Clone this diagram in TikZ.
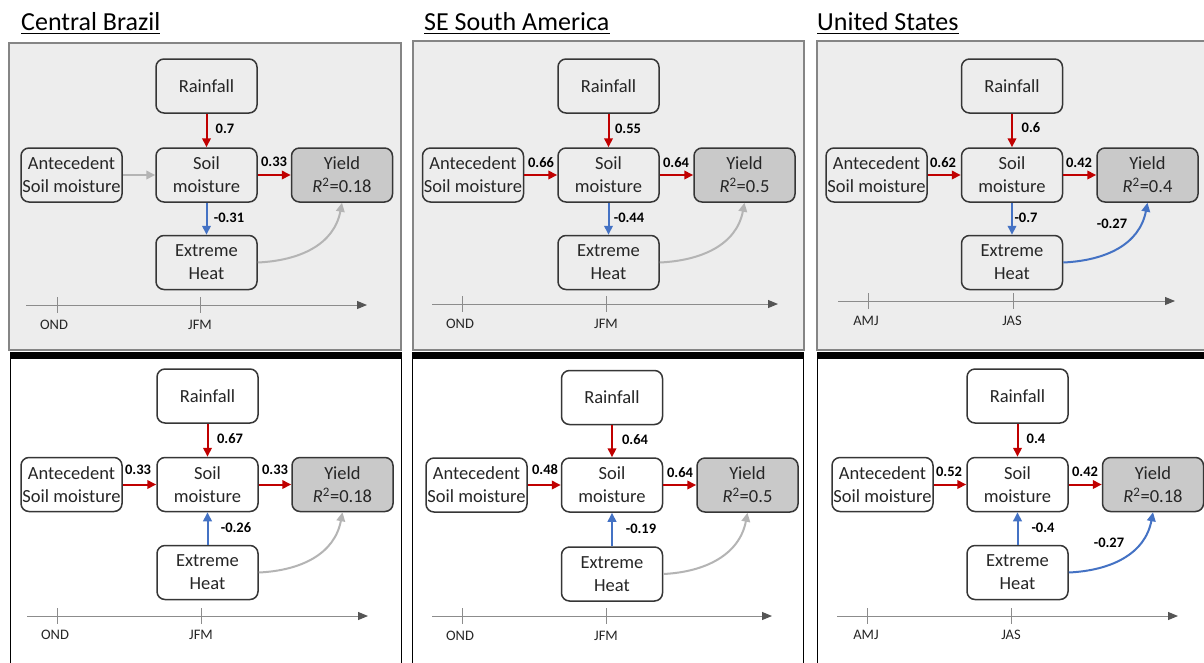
\documentclass[tikz,border=0pt]{standalone}
\usepackage{fontspec}
\setmainfont{Carlito}
\usetikzlibrary{arrows.meta}
\definecolor{cred}{HTML}{C00000}
\definecolor{cblue}{HTML}{4472C4}
\definecolor{cgray}{HTML}{B4B4B4}
\definecolor{panelbg}{HTML}{EDEDED}
\definecolor{panelline}{HTML}{858585}
\definecolor{nodeline}{HTML}{363636}
\definecolor{yieldfill}{HTML}{C9C9C9}
\definecolor{txt}{HTML}{262626}
\definecolor{axline}{HTML}{8C8C8C}
\definecolor{axtip}{HTML}{555555}
\begin{document}
\begin{tikzpicture}[x=1pt,y=-1pt,
  box/.style={draw=nodeline, line width=1.5pt, rounded corners=8pt,
    minimum width=101pt, minimum height=54pt, inner sep=0pt, align=center,
    font=\fontsize{18.5}{23}\selectfont, text=txt},
  topbox/.style={box, fill=panelbg},
  botbox/.style={box, fill=white},
  yieldbox/.style={box, fill=yieldfill},
  lab/.style={font=\fontsize{14.5}{16}\selectfont\bfseries, text=black, inner sep=0pt},
  axlab/.style={font=\fontsize{14.5}{16}\selectfont, text=txt, inner sep=0pt},
  titlelab/.style={font=\fontsize{26}{28}\selectfont, text=black, inner sep=0pt, anchor=base west},
  arr/.style={line width=2pt, -{Triangle[length=9pt,width=8.5pt]}},
  redarr/.style={arr, draw=cred},
  bluearr/.style={arr, draw=cblue},
  grayarr/.style={arr, draw=cgray},
  axis/.style={draw=axline, line width=1pt, -{Triangle[length=10pt,width=8pt,color=axtip]}},
  tick/.style={draw=axline, line width=1pt},
  toppanel/.style={fill=panelbg, draw=panelline, line width=2pt},
  botpanel/.style={fill=white, draw=black, line width=1pt},
  bar/.style={fill=black, draw=none},
  uline/.style={draw=black, line width=1.3pt}
]
\useasboundingbox (0,0) rectangle (1204,662);
\clip (0,0) rectangle (1204,662);
\fill[white] (0,0) rectangle (1204,662);

% ---------- titles ----------
\node[titlelab] (t1) at (21,30) {Central Brazil};
\draw[uline] ([yshift=-3.5pt]t1.base west) -- ([yshift=-3.5pt]t1.base east);
\node[titlelab] (t2) at (424,30) {SE South America};
\draw[uline] ([yshift=-3.5pt]t2.base west) -- ([yshift=-3.5pt]t2.base east);
\node[titlelab] (t3) at (817,30) {United States};
\draw[uline] ([yshift=-3.5pt]t3.base west) -- ([yshift=-3.5pt]t3.base east);

% ---------- panels ----------
\draw[toppanel] (9,43) rectangle (401,350);
\draw[toppanel] (413,41) rectangle (804,350);
\draw[toppanel] (817,41) rectangle (1220,350);
\draw[botpanel] (10,355) rectangle (401,680);
\draw[botpanel] (412,355) rectangle (803,680);
\draw[botpanel] (817,355) rectangle (1220,680);
\fill[bar] (9.5,351.5) rectangle (401.5,359);
\fill[bar] (411.5,351.5) rectangle (803.5,359);
\fill[bar] (816.5,351.5) rectangle (1220,359);

% ================= Top left: Central Brazil =================
\node[topbox] (aR) at (206.5,86) {Rainfall};
\node[topbox] (aA) at (71.5,175) {Antecedent\\Soil moisture};
\node[topbox] (aS) at (206.5,175) {Soil\\moisture};
\node[yieldbox] (aY) at (342,175) {Yield\\{\itshape R}\textsuperscript{2}=0.18};
\node[topbox] (aH) at (206.5,262.5) {Extreme\\Heat};
\draw[redarr] (aR) -- (aS);
\draw[grayarr] (aA) -- (aS);
\draw[redarr] (aS) -- (aY);
\draw[bluearr] (aS) -- (aH);
\draw[grayarr] (aH.east) .. controls +(42,-2) and +(-8,42) .. (aY.south);
\node[lab] (aL1) at (225,129) {0.7};
\node[lab] (aL2) at (274,162) {0.33};
\node[lab] (aL3) at (229,218) {-0.31};
\coordinate (aX0) at (26,305); \coordinate (aX1) at (367,305);
\draw[axis] (aX0) -- (aX1);
\draw[tick] (57,297) -- (57,313);
\draw[tick] (200,297) -- (200,313);
\node[axlab] (aM1) at (54,325) {OND};
\node[axlab] (aM2) at (200,325) {JFM};

% ================= Top middle: SE South America =================
\node[topbox] (bR) at (608.5,86) {Rainfall};
\node[topbox] (bA) at (473,175) {Antecedent\\Soil moisture};
\node[topbox] (bS) at (608.5,175) {Soil\\moisture};
\node[yieldbox] (bY) at (744.5,175) {Yield\\{\itshape R}\textsuperscript{2}=0.5};
\node[topbox] (bH) at (608.5,262.5) {Extreme\\Heat};
\draw[redarr] (bR) -- (bS);
\draw[redarr] (bA) -- (bS);
\draw[redarr] (bS) -- (bY);
\draw[bluearr] (bS) -- (bH);
\draw[grayarr] (bH.east) .. controls +(42,-2) and +(-8,42) .. (bY.south);
\node[lab] (bL1) at (628,129) {0.55};
\node[lab] (bL2) at (541,163) {0.66};
\node[lab] (bL3) at (676,163) {0.64};
\node[lab] (bL4) at (629,218) {-0.44};
\coordinate (bX0) at (432,304); \coordinate (bX1) at (778,304);
\draw[axis] (bX0) -- (bX1);
\draw[tick] (462,296) -- (462,312);
\draw[tick] (606,296) -- (606,312);
\node[axlab] (bM1) at (460,324) {OND};
\node[axlab] (bM2) at (606,324) {JFM};

% ================= Top right: United States =================
\node[topbox] (cR) at (1012,86) {Rainfall};
\node[topbox] (cA) at (876.5,175) {Antecedent\\Soil moisture};
\node[topbox] (cS) at (1012,175) {Soil\\moisture};
\node[yieldbox] (cY) at (1147.5,175) {Yield\\{\itshape R}\textsuperscript{2}=0.4};
\node[topbox] (cH) at (1012,262.5) {Extreme\\Heat};
\draw[redarr] (cR) -- (cS);
\draw[redarr] (cA) -- (cS);
\draw[redarr] (cS) -- (cY);
\draw[bluearr] (cS) -- (cH);
\draw[bluearr] (cH.east) .. controls +(42,-2) and +(-8,42) .. (cY.south);
\node[lab] (cL1) at (1031,128) {0.6};
\node[lab] (cL2) at (943,163) {0.62};
\node[lab] (cL3) at (1079,163) {0.42};
\node[lab] (cL4) at (1026,218) {-0.7};
\node[lab] (cL5) at (1112,224) {-0.27};
\coordinate (cX0) at (838,301); \coordinate (cX1) at (1175,301);
\draw[axis] (cX0) -- (cX1);
\draw[tick] (868,293) -- (868,309);
\draw[tick] (1013,293) -- (1013,309);
\node[axlab] (cM1) at (866,321) {AMJ};
\node[axlab] (cM2) at (1012,321) {JAS};

% ================= Bottom left =================
\node[botbox] (dR) at (207.5,396) {Rainfall};
\node[botbox] (dA) at (71.5,484.5) {Antecedent\\Soil moisture};
\node[botbox] (dS) at (207.5,484.5) {Soil\\moisture};
\node[yieldbox] (dY) at (342.5,484.5) {Yield\\{\itshape R}\textsuperscript{2}=0.18};
\node[botbox] (dH) at (207.5,572.5) {Extreme\\Heat};
\draw[redarr] (dR) -- (dS);
\draw[redarr] (dA) -- (dS);
\draw[redarr] (dS) -- (dY);
\draw[bluearr] (dH) -- (dS);
\draw[grayarr] (dH.east) .. controls +(42,-2) and +(-8,42) .. (dY.south);
\node[lab] (dL1) at (230,439) {0.67};
\node[lab] (dL2) at (138,470) {0.33};
\node[lab] (dL3) at (275,470) {0.33};
\node[lab] (dL4) at (236,528) {-0.26};
\coordinate (dX0) at (27,616); \coordinate (dX1) at (368,616);
\draw[axis] (dX0) -- (dX1);
\draw[tick] (57,608) -- (57,624);
\draw[tick] (201,608) -- (201,624);
\node[axlab] (dM1) at (55,635) {OND};
\node[axlab] (dM2) at (201,635) {JFM};

% ================= Bottom middle =================
\node[botbox] (eR) at (612,397.5) {Rainfall};
\node[botbox] (eA) at (476.5,485) {Antecedent\\Soil moisture};
\node[botbox] (eS) at (612,485) {Soil\\moisture};
\node[yieldbox] (eY) at (747.5,485) {Yield\\{\itshape R}\textsuperscript{2}=0.5};
\node[botbox] (eH) at (612,574) {Extreme\\Heat};
\draw[redarr] (eR) -- (eS);
\draw[redarr] (eA) -- (eS);
\draw[redarr] (eS) -- (eY);
\draw[bluearr] (eH) -- (eS);
\draw[grayarr] (eH.east) .. controls +(42,-2) and +(-8,42) .. (eY.south);
\node[lab] (eL1) at (635,440) {0.64};
\node[lab] (eL2) at (545,470) {0.48};
\node[lab] (eL3) at (680,473) {0.64};
\node[lab] (eL4) at (641,529) {-0.19};
\coordinate (eX0) at (432,616); \coordinate (eX1) at (772,616);
\draw[axis] (eX0) -- (eX1);
\draw[tick] (462,608) -- (462,624);
\draw[tick] (606,608) -- (606,624);
\node[axlab] (eM1) at (460,636) {OND};
\node[axlab] (eM2) at (606,636) {JFM};

% ================= Bottom right =================
\node[botbox] (fR) at (1017.5,396) {Rainfall};
\node[botbox] (fA) at (882.5,484.5) {Antecedent\\Soil moisture};
\node[botbox] (fS) at (1017.5,484.5) {Soil\\moisture};
\node[yieldbox] (fY) at (1153,484.5) {Yield\\{\itshape R}\textsuperscript{2}=0.18};
\node[botbox] (fH) at (1017.5,572.5) {Extreme\\Heat};
\draw[redarr] (fR) -- (fS);
\draw[redarr] (fA) -- (fS);
\draw[redarr] (fS) -- (fY);
\draw[bluearr] (fH) -- (fS);
\draw[bluearr] (fH.east) .. controls +(42,-2) and +(-8,42) .. (fY.south);
\node[lab] (fL1) at (1036,439) {0.4};
\node[lab] (fL2) at (949,472) {0.52};
\node[lab] (fL3) at (1085,472) {0.42};
\node[lab] (fL4) at (1043,528) {-0.4};
\node[lab] (fL5) at (1109,543) {-0.27};
\coordinate (fX0) at (837,616); \coordinate (fX1) at (1178,616);
\draw[axis] (fX0) -- (fX1);
\draw[tick] (867,608) -- (867,624);
\draw[tick] (1011,608) -- (1011,624);
\node[axlab] (fM1) at (866,635) {AMJ};
\node[axlab] (fM2) at (1011,635) {JAS};
\end{tikzpicture}
\end{document}
